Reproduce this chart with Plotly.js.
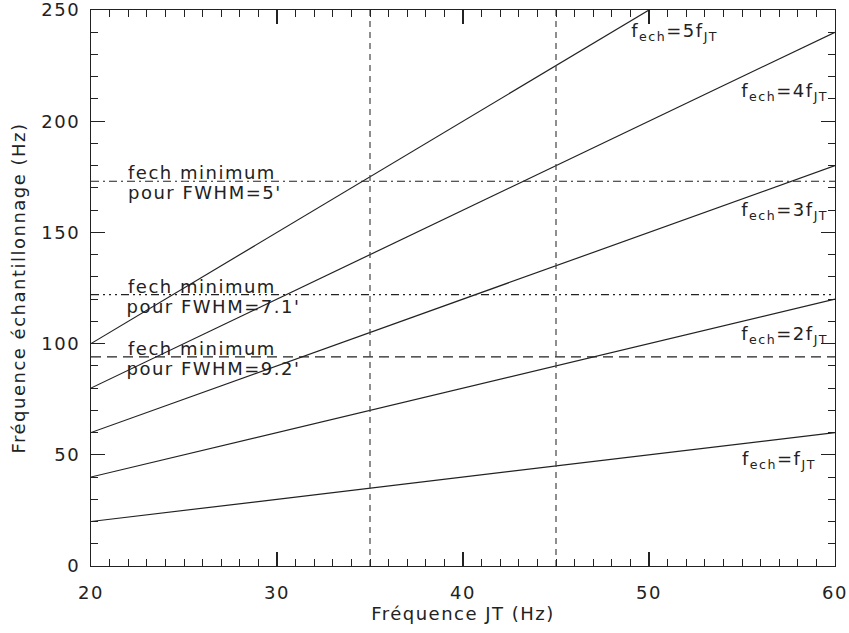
<!DOCTYPE html>
<html>
<head>
<meta charset="utf-8">
<script src="https://cdn.plot.ly/plotly-3.0.1.min.js"></script>
<style>
html,body{margin:0;padding:0;background:#fff;}
#chart{width:849px;height:633px;}
#chart svg text{letter-spacing:1.5px;}
</style>
</head>
<body>
<div id="chart"></div>
<script>
// Data
const freqJT = [20, 30, 40, 50, 60];
const multipliers = [1, 2, 3, 4, 5];
const lineLabels = ["f<sub>ech</sub>=f<sub>JT</sub>", "f<sub>ech</sub>=2f<sub>JT</sub>", "f<sub>ech</sub>=3f<sub>JT</sub>", "f<sub>ech</sub>=4f<sub>JT</sub>", "f<sub>ech</sub>=5f<sub>JT</sub>"];
const labelX = [55.2, 55.2, 55.2, 55.2, 49.3];
const labelY = [47.5, 104, 159.5, 213, 240];
const fechMin = [173, 122, 94];
const fwhmTop = ["fech minimum", "fech minimum", "fech minimum"];
const fwhmBottom = ["pour FWHM=5'", "pour FWHM=7.1'", "pour FWHM=9.2'"];
const fwhmDash = ["8px,4px,2px,4px", "8px,4px,2px,4px,2px,4px,2px,4px", "10px,6px"];
const verticalX = [35, 45];
const xRange = [20, 60];
const yRange = [0, 250];

const FONT = "DejaVu Sans, sans-serif";
const INK = "#222";

const traces = [];
multipliers.forEach((k) => {
  traces.push({
    x: freqJT, y: freqJT.map(v => k * v), mode: "lines", type: "scatter",
    line: {color: INK, width: 1.2}, hoverinfo: "skip", showlegend: false
  });
});
fechMin.forEach((v, i) => {
  traces.push({
    x: xRange, y: [v, v], mode: "lines", type: "scatter",
    line: {color: INK, width: 1.2, dash: fwhmDash[i]}, hoverinfo: "skip", showlegend: false
  });
});
verticalX.forEach((v) => {
  traces.push({
    x: [v, v], y: yRange, mode: "lines", type: "scatter",
    line: {color: "#444", width: 1.2, dash: "6px,5px"}, hoverinfo: "skip", showlegend: false
  });
});

const annotations = [];
lineLabels.forEach((t, i) => {
  annotations.push({x: labelX[i], y: labelY[i], text: t, showarrow: false, xanchor: "left", yanchor: "middle",
    font: {family: FONT, size: 18, color: INK}});
});
fechMin.forEach((v, i) => {
  annotations.push({x: 22.35, y: v, text: fwhmTop[i], showarrow: false, xanchor: "left", yanchor: "bottom",
    yshift: -4, font: {family: FONT, size: 18, color: INK}});
  annotations.push({x: 22.35, y: v, text: fwhmBottom[i], showarrow: false, xanchor: "left", yanchor: "top",
    yshift: 1, font: {family: FONT, size: 18, color: INK}});
});

const axisCommon = {
  showgrid: false, zeroline: false, showline: true, linecolor: INK, linewidth: 1.2,
  mirror: "allticks", ticks: "inside", ticklen: 14, tickwidth: 1.2, tickcolor: INK,
  ticklabeloverflow: "allow", layer: "above traces",
  tickfont: {family: FONT, size: 18, color: INK}
};

const layout = {
  width: 849, height: 633,
  margin: {l: 91, r: 14, t: 10, b: 67},
  paper_bgcolor: "#fff", plot_bgcolor: "#fff",
  xaxis: Object.assign({}, axisCommon, {
    range: xRange, tickmode: "linear", tick0: 20, dtick: 10, ticklabelstandoff: 10,
    minor: {tickmode: "linear", tick0: 20, dtick: 1, ticklen: 7, tickcolor: INK, ticks: "inside", tickwidth: 1},
    title: {text: "Fréquence JT (Hz)", font: {family: FONT, size: 18, color: INK}, standoff: 4}
  }),
  yaxis: Object.assign({}, axisCommon, {
    range: yRange, tickmode: "linear", tick0: 0, dtick: 50, ticklabelstandoff: 6,
    minor: {tickmode: "linear", tick0: 0, dtick: 10, ticklen: 7, tickcolor: INK, ticks: "inside", tickwidth: 1},
    title: {text: "Fréquence échantillonnage (Hz)", font: {family: FONT, size: 18, color: INK}, standoff: 15}
  }),
  annotations: annotations,
  showlegend: false
};

Plotly.newPlot("chart", traces, layout, {staticPlot: true});
</script>
</body>
</html>
